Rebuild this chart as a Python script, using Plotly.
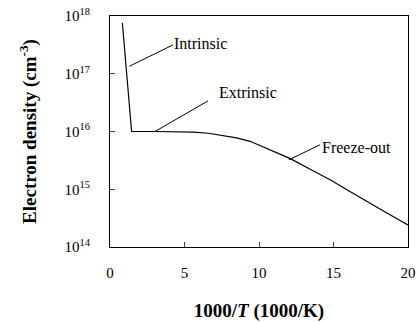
import plotly.graph_objects as go

# Data
inv_T = [0.83, 1.45, 3.0, 4.5, 5.6, 6.6, 7.6, 8.5, 9.4, 10.7, 12.1, 13.4, 14.8, 16.1, 17.4, 18.7, 20.0]
log_n = [17.88, 16.0, 16.0, 16.0, 15.99, 15.97, 15.93, 15.89, 15.83, 15.69, 15.53, 15.35, 15.16, 14.96, 14.76, 14.57, 14.38]
density = [10 ** v for v in log_n]

y_tick_exps = [14, 15, 16, 17, 18]
y_tick_labels = ["10<sup>%d</sup>" % e for e in y_tick_exps]
x_ticks = [0, 5, 10, 15, 20]

labels = ["Intrinsic", "Extrinsic", "Freeze-out"]
label_x = [4.15, 7.15, 14.1]
label_logy = [17.53, 16.67, 15.73]
leader_x0 = [1.3, 3.02, 12.0]
leader_logy0 = [17.13, 16.0, 15.51]
leader_x1 = [4.23, 6.58, 14.1]
leader_logy1 = [17.5, 16.53, 15.77]

font = "Liberation Serif"

fig = go.Figure()
fig.add_trace(go.Scatter(x=inv_T, y=density, mode="lines",
                         line=dict(color="black", width=1.2), showlegend=False))
for i in range(len(labels)):
    fig.add_trace(go.Scatter(x=[leader_x0[i], leader_x1[i]],
                             y=[10 ** leader_logy0[i], 10 ** leader_logy1[i]],
                             mode="lines", line=dict(color="black", width=1),
                             showlegend=False))
    fig.add_annotation(x=label_x[i], y=label_logy[i], text=labels[i],
                       showarrow=False, xanchor="left", yanchor="middle",
                       font=dict(family=font, size=16, color="black"))

fig.update_layout(
    width=417, height=322,
    margin=dict(l=110, r=9, t=16, b=75),
    paper_bgcolor="white", plot_bgcolor="white",
    font=dict(family=font, color="black"),
)
fig.update_xaxes(range=[0, 20], tickvals=x_ticks, ticks="inside", ticklen=5,
                 showgrid=False, zeroline=False, showline=True, mirror=True,
                 linecolor="black", linewidth=1, automargin=False,
                 ticklabelstandoff=12,
                 tickfont=dict(family=font, size=15),
                 title=dict(text="<b>1000/<i>T</i> (1000/K)</b>",
                            font=dict(family=font, size=19), standoff=24))
fig.update_yaxes(type="log", range=[14, 18],
                 tickvals=[10 ** e for e in y_tick_exps], ticktext=y_tick_labels,
                 ticks="inside", ticklen=5, showgrid=False, zeroline=False,
                 showline=True, mirror=True, linecolor="black", linewidth=1,
                 automargin=False, ticklabelstandoff=16,
                 tickfont=dict(family=font, size=15),
                 title=dict(text="<b>Electron density (cm<sup>-3</sup>)</b>",
                            font=dict(family=font, size=19), standoff=22))

fig.write_html("out.html", config={"displayModeBar": False},
               post_script="document.body.style.margin='0';")
